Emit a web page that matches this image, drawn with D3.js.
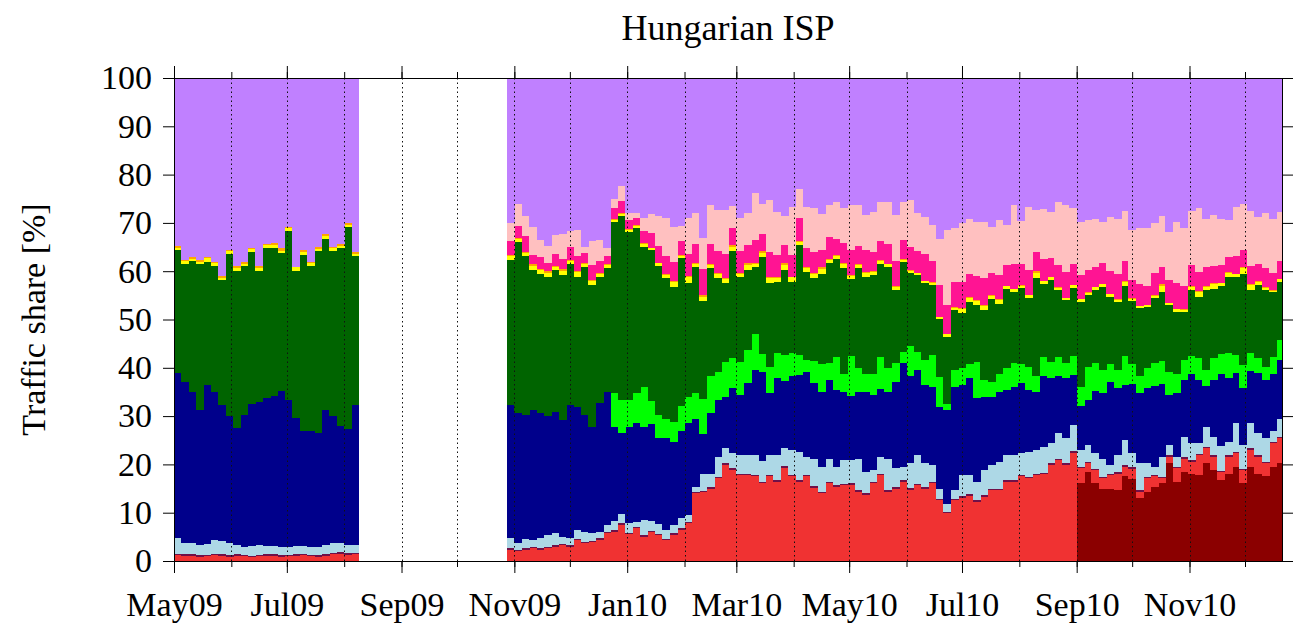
<!DOCTYPE html>
<html>
<head>
<meta charset="utf-8">
<script src="https://cdn.jsdelivr.net/npm/d3@7"></script>
<style>
  body { margin: 0; background: #fff; }
  text { font-family: "Liberation Serif", "Times New Roman", serif; fill: #000; }
  .axis path { display: none; }
  .axis line { stroke: #000; }
</style>
</head>
<body>
<svg id="chart" width="1302" height="632"></svg>
<script>
// two measurement periods, one bar = 4 days
const periodStarts = ['2009-05-01', '2009-10-28'];
const periodBars = [25, 105];

// traffic share per class [%], period 1 (25 bars) then period 2 (105 bars)
const darkRed = [
  0,0,0,0,0,0,0,0,0,0,0,0,0,0,0,0,0,0,0,0,0,0,0,0,0,
  0,0,0,0,0,0,0,0,0,0, 0,0,0,0,0,0,0,0,0,0, 0,0,0,0,0,0,0,0,0,0, 0,0,0,0,0,0,0,0,0,0,
  0,0,0,0,0,0,0,0,0,0, 0,0,0,0,0,0,0,0,0,0, 0,0,0,0,0,0,0,0,0,0, 0,0,0,0,0,0,0,16.1,18.5,16.1,
  15.0,15.0,14.7,17.5,17,13,14.3,15.4,16.1,20.2, 16.4,18.5,18.1,17.8,20.2,18.8,16.8,18.1,19.5,16.1,
  19.5,18.1,17.5,19.5,20.2
];
const red = [
  1.2,1.0,1.1,0.9,1.0,1.2,1.0,0.9,1.1,1.0,0.9,1.0,1.1,1.0,0.9,1.0,1.1,1.2,1.0,0.9,1.1,1.4,1.5,1.3,1.4,
  2.3,2.0,2.3,2.6,2.3,2.6,3.0,3.3,3.0,4.3, 3.7,4.0,4.4,5.7,6.1,7.5,5.5,6.8,5.0,6.0,
  5.3,4.3,5.4,6.4,7.8,14,14.3,15,17.1,19.9, 18.8,17.8,17.8,17.5,16.1,17.5,16.4,19.2,17.5,16.4,
  17.5,15.2,14,16.1,15.4,15.7,15.7,14.3,13.7,16.1, 17.8,14.3,15,16.4,14.7,15.7,15,16.1,12.6,9.9,
  12.6,13,13.5,12.3,13.3,14.7,14.7,16.4,16.4,17.5, 17.1,17.8,18.1,19.9,20.9,19.9,22.3,3.1,1.7,2.7,
  2.1,2.8,3.4,2.0,2.0,1.3,2.8,2.1,1.0,1.4, 2.8,2.7,2.5,4.1,3.1,2.8,1.7,3.5,2.8,2.7,
  3.5,3.5,2.7,4.9,5.2
];
const plum = [
  0.3,0.4,0.3,0.3,0.2,0.3,0.4,0.3,0.3,0.3,0.2,0.3,0.3,0.4,0.3,0.3,0.3,0.2,0.3,0.3,0.4,0.3,0.3,0.3,0.3,
  .3,.3,.4,.3,.3,.2,.3,.3,.4,.3, .3,.2,.3,.3,.3,.4,.3,.3,.3,.2, .3,.3,.3,.4,.3,.3,.2,.3,.3,.3,
  .4,.3,.3,.3,.2,.3,.3,.4,.3,.3, .3,.3,.2,.3,.3,.3,.4,.3,.3,.3, .2,.3,.3,.3,.4,.3,.3,.3,.2,.3,
  .3,.4,.3,.3,.3,.2,.3,.3,.3,.4, .3,.3,.2,.3,.3,.3,.4,.3,.3,.3, .3,.2,.3,.3,.4,.3,.3,.3,.2,.3,
  .3,.3,.4,.3,.3,.3,.2,.3,.3,.3, .4,.3,.3,.2,.3
];
const lightBlue = [
  3.2,2.4,2.3,2.1,2.4,2.8,2.7,2.5,1.9,1.7,2.1,2.0,1.8,1.7,1.8,1.6,1.8,1.8,1.7,1.8,1.8,2.0,1.9,1.7,1.6,
  2.1,1.4,1.8,1.4,2.1,2.5,2.4,1.4,1.4,1.9, 2.1,1.7,1.4,1.5,1.8,1.8,2.0,0.9,3.2,2.1,
  2.0,1.8,1.7,2.1,1.4,1.1,3.5,2.8,4.2,3.1, 3.2,3.8,3.8,4.1,4.5,4.1,5.2,3.8,5.2,5.9,
  3.8,5.7,5.2,4.8,3.8,4.9,4.9,6.6,4.5,2.4, 3.5,6.6,3.9,2.8,5.2,5.9,4.9,3.5,2.1,1.7,
  1.8,4.5,4.0,3.8,5.2,4.9,5.6,5.2,5.2,4.5, 5.2,4.9,5.3,4.2,5.2,5.2,5.5,3.5,3.5,3.3,
  3.8,1.8,3.5,5.2,3.0,5.6,2.8,1.7,4.2,2.1, 2.1,4.2,3.5,2.2,4.2,3.8,5.2,2.8,5.9,4.9,
  5.2,4.5,4.9,2.4,3.8
];
const navy = [
  34.2,33.3,31.3,28.0,32.8,30.7,28.2,26.4,24.2,27.2,29.3,29.7,30.5,31.0,32.2,30.5,26.5,23.7,24.0,23.6,27.9,26.4,24.3,24.0,29.0,
  27.6,26.9,25.8,27.0,25.9,24.8,25.2,24.2,27.6,25.4, 24.1,21.8,26.7,27.5,19.6,16.8,20.0,20.5,19.3,20.1,
  17.9,19.0,17.3,18.0,19.0,14.1,8.3,12.5,11.7,10.7, 13.4,12.5,14.9,17.6,18.3,12.8,15.9,13.8,15.2,15.9,
  17.6,15.6,15.5,16.3,15.9,14.1,13.1,13.8,16.5,15.6, 14.1,13.8,17.9,21.4,18.0,17.6,16.2,16.2,16.9,19.4,
  21.4,18.6,20.0,17.3,15.2,14.1,14.4,13.5,14.2,14.5, 12.8,12.0,14.8,13.4,11.8,12.4,10.4,9.0,9.4,12.7,
  13.6,17.3,13.9,11.4,14.2,14.6,15.6,16.7,15.2,10.4, 13.2,11.8,14.2,13.1,8.4,11.8,14.9,13.2,10.4,11.8,
  10.8,12.5,12.1,11.8,12.2
];
const green = [
  0,0,0,0,0,0,0,0,0,0,0,0,0,0,0,0,0,0,0,0,0,0,0,0,0,
  0,0,0,0,0,0,0,0,0,0, 0,0,0,0,6.9,6.9,5.5,6.2,8.2,4.8,
  4.7,4.1,4.1,5.1,5.5,5.2,7.3,7.6,5.9,7.3, 6.3,6.9,6.9,7.6,3.8,5.5,5.2,5.5,4.8,4.1,
  2.4,4.7,5.9,3.4,6.9,3.8,8.3,4.9,3.8,4.4, 6.6,4.9,3.8,2.4,6.2,3.8,5.2,6.5,6.3,1.3,
  3.4,3.5,2.9,7.6,3.5,3.1,3.8,4.5,4.8,3.8, 4.8,3.2,3.8,3.5,4.1,3.1,3.8,4.1,6.8,5.8,
  4.7,3.7,3.7,6.1,4.1,3.4,4.1,4.7,4.8,4.8, 4.0,4.1,3.7,4.5,3.3,4.5,4.1,5.1,3.7,4.8,
  3.7,3.1,2.7,3.4,4.0
];
const darkGreen = [
  25.4,24.4,27.1,30.1,25.6,26.1,25.9,33.4,32.6,30.9,31.5,27.1,31.1,30.8,28.6,34.9,30.3,36.5,34.1,37.5,35.5,34.0,36.8,41.8,30.8,
  30.0,35.4,32.8,28.9,28.9,28.6,29.3,30.0,29.0,26.9, 30.7,29.5,26.0,25.6,35.5,38.0,34.9,34.3,29.0,31.1,
  30.8,29.0,28.0,30.7,23.5,26.2,20.3,22.4,19.3,16.2, 22.0,17.5,16.5,13.8,20.0,17.3,14.8,17.6,14.8,22.8,
  18.3,17.1,18.6,20.7,20.3,21.8,15.9,20.7,20.0,20.4, 19.3,21.0,15.2,18.7,15.1,15.9,15.9,14.5,12.0,13.8,
  12.4,11.4,12.9,11.7,14.4,17.3,14.5,16.5,14.8,15.8, 14.2,20.3,15.2,16.9,13.8,13.1,14.1,17.6,14.9,15.2,
  17.3,13.8,14.2,14.5,13.1,14.1,12.7,13.5,14.1,13.8, 12.8,10.0,13.8,12.7,16.6,14.4,14.1,15.8,16.2,18.9,
  13.1,15.1,15.9,13.4,12.1
];
const yellow = [
  0.5,0.6,0.4,0.5,0.7,0.5,0.4,0.6,0.5,0.4,0.6,0.5,0.7,0.5,0.4,0.6,0.8,0.5,0.6,0.4,0.5,0.6,0.5,0.4,0.5,
  .8,.6,.7,.9,.8,1.0,.6,.9,.7,1.0, .6,.8,.7,.6,.5,.5,.4,.4,.6,.5,
  .6,.7,.9,.5,1.2,.6,.8,.7,.9,.8, 1.0,.7,1.1,.6,.9,1.0,.8,1.0,.9,.6,
  .7,.8,1.1,.7,.6,.9,.8,.7,.8,.6, .7,.5,.6,.4,.5,.4,.4,.5,.4,.6,
  .5,.7,.9,.8,.9,.6,.7,.5,.6,.5, .6,1.2,.5,.6,.5,.4,.6,.5,.4,.6,
  .5,.6,.4,.8,.5,.4,.3,.5,1.4,.4, .5,.4,.6,1.0,.7,.9,.5,.8,.6,1.1,
  .9,.7,.5,.4,.5
];
const orange = [
  0.4,0.3,0.5,0.4,0.2,0.4,0.5,0.3,0.4,0.5,0.3,0.4,0.2,0.4,0.5,0.3,0.1,0.4,0.3,0.5,0.4,0.3,0.4,0.5,0.4,
  .2,.2,.2,.3,.2,.3,.2,.3,.2,.3, .2,.2,.2,.2,.2,.2,.1,.1,.2,.1,
  .2,.2,.3,.2,.4,.2,.3,.2,.2,.3, .3,.2,.3,.2,.3,.3,.2,.3,.2,.2,
  .2,.2,.3,.2,.2,.2,.2,.2,.2,.2, .2,.1,.2,.1,.1,.1,.1,.1,.1,.1,
  .1,.2,.2,.2,.2,.1,.2,.1,.1,.1, .1,.3,.1,.1,.1,.1,.1,.1,.1,.1,
  .1,.1,.1,.2,.1,.1,.1,.1,.3,.1, .1,.1,.1,.2,.2,.2,.1,.2,.1,.3,
  .2,.2,.1,.1,.1
];
const deepPink = [
  0,0,0,0,0,0,0,0,0,0,0,0,0,0,0,0,0,0,0,0,0,0,0,0,0,
  3.0,2.5,3.2,2.0,2.4,1.8,2.6,2.2,2.8,3.0, 2.0,3.1,2.4,1.8,2.2,2.5,1.8,1.5,2.6,3.0,
  3.5,3.8,4.0,2.8,4.5,4.0,5.5,4.2,4.6,5.0, 3.5,4.4,3.9,4.8,3.6,5.2,4.6,3.8,4.4,4.9,
  3.9,4.4,3.6,4.5,3.2,4.1,5.0,3.7,4.6,4.0, 3.9,4.2,5.3,3.9,4.8,4.5,5.5,4.4,6.5,6.0,
  5.2,5.5,4.8,5.1,5.6,4.7,5.0,4.3,5.0,4.4, 5.2,4.0,4.5,3.8,4.6,5.4,4.2,5.0,4.6,4.0,
  4.4,4.8,5.2,4.1,3.8,4.5,3.9,4.6,3.6,4.7, 5.3,4.9,4.3,3.9,3.8,3.5,3.7,3.2,3.6,3.4,
  3.8,3.5,3.9,3.6,3.7
];
const pink = [
  0,0,0,0,0,0,0,0,0,0,0,0,0,0,0,0,0,0,0,0,0,0,0,0,0,
  3.7,4.7,4.2,5.8,3.5,3.5,3.9,5.2,3.2,5.4, 1.3,5.0,4.3,1.5,1.9,3.0,1.5,1.0,2.6,4.0,
  6.2,7.8,7.2,3.1,7.4,6.3,6.4,8.0,8.5,9.1, 4.5,7.0,6.6,9.6,6.2,10.7,8.9,6.0,10.0,6.0,
  8.6,9.0,7.5,6.7,7.8,7.2,9.5,8.5,7.2,8.3, 8.0,8.7,9.4,8.0,9.8,7.8,7.8,7.4,9.6,15.4,
  11.2,12.2,11.4,11.1,11.6,9.4,11.4,8.2,12.3,8.8, 13.0,8.7,10.4,9.6,13.1,13.8,11.7,10.9,10.4,10.1,
  8.4,11.1,11.5,10.4,10.4,11.6,12.0,10.3,10.6,10.0, 12.7,11.9,11.2,13.2,10.1,10.6,9.5,7.6,10.2,9.7,
  11.3,9.8,11.4,11.1,10.2
];

const series = [
  {key: 'darkRed', values: darkRed, color: '#8b0000'},
  {key: 'red', values: red, color: '#f03232'},
  {key: 'plum', values: plum, color: '#701048'},
  {key: 'lightBlue', values: lightBlue, color: '#add8e6'},
  {key: 'navy', values: navy, color: '#00008b'},
  {key: 'green', values: green, color: '#00ff00'},
  {key: 'darkGreen', values: darkGreen, color: '#006400'},
  {key: 'yellow', values: yellow, color: '#ffff00'},
  {key: 'orange', values: orange, color: '#ffa500'},
  {key: 'deepPink', values: deepPink, color: '#ff1493'},
  {key: 'pink', values: pink, color: '#ffc0c0'}
];
const otherColor = '#c080ff';

const yTicks = [0, 10, 20, 30, 40, 50, 60, 70, 80, 90, 100];

const svg = d3.select('svg#chart');
const margins = {top: 78, right: 20, bottom: 71, left: 174};
const width = +svg.attr('width');
const height = +svg.attr('height');
const plotW = width - margins.left - margins.right;
const plotH = height - margins.top - margins.bottom;

const parse = d3.timeParse('%Y-%m-%d');

// one row per 4-day bar
const rows = [];
let k = 0;
periodStarts.forEach((s, p) => {
  const t0 = parse(s);
  for (let i = 0; i < periodBars[p]; i++, k++) {
    const row = {date: d3.timeDay.offset(t0, 4 * i), end: d3.timeDay.offset(t0, 4 * (i + 1))};
    series.forEach(se => row[se.key] = se.values[k]);
    // remaining (unclassified) traffic fills up to 100%
    row.other = 100 - d3.sum(series, se => se.values[k]);
    rows.push(row);
  }
});

const keys = series.map(s => s.key).concat(['other']);
const colors = series.map(s => s.color).concat([otherColor]);
const stacked = d3.stack().keys(keys)(rows);

const xScale = d3.scaleTime()
  .domain([new Date(2009, 4, 1), new Date(2010, 11, 21)])
  .range([0, plotW]);
const yScale = d3.scaleLinear().domain([0, 100]).range([plotH, 0]);

const chart = svg.append('g').attr('transform', `translate(${margins.left},${margins.top})`);

svg.append('clipPath').attr('id', 'plotclip')
  .append('rect').attr('width', plotW).attr('height', plotH);

const bars = chart.append('g').attr('clip-path', 'url(#plotclip)');
stacked.forEach((layer, li) => {
  bars.append('g')
    .attr('fill', colors[li])
    .attr('shape-rendering', 'crispEdges')
    .selectAll('rect')
    .data(layer.filter(d => d[1] > d[0]))
    .join('rect')
    .attr('x', d => xScale(d.data.date))
    .attr('width', d => xScale(d.data.end) - xScale(d.data.date) + 0.5)
    .attr('y', d => yScale(d[1]))
    .attr('height', d => yScale(d[0]) - yScale(d[1]));
});

// dotted monthly grid in front of the bars
const months = d3.timeMonth.range(new Date(2009, 5, 1), xScale.domain()[1]);
chart.append('g')
  .selectAll('line')
  .data(months)
  .join('line')
  .attr('x1', d => Math.round(xScale(d)) + 0.5)
  .attr('x2', d => Math.round(xScale(d)) + 0.5)
  .attr('y1', 0)
  .attr('y2', plotH)
  .attr('stroke', '#111')
  .attr('stroke-width', 1)
  .attr('stroke-dasharray', '1.5,3');

// axes: labelled every two months, minor ticks every month
const allMonths = d3.timeMonth.range(new Date(2009, 4, 1), xScale.domain()[1]);
const majorMonths = allMonths.filter(d => d.getMonth() % 2 === 0);

chart.append('g').attr('class', 'axis')
  .attr('transform', `translate(0,${plotH})`)
  .call(d3.axisBottom(xScale).tickValues(allMonths).tickSize(6).tickFormat(''));
chart.append('g').attr('class', 'axis')
  .attr('transform', `translate(0,${plotH})`)
  .call(d3.axisBottom(xScale).tickValues(majorMonths).tickSize(12).tickPadding(19)
    .tickFormat(d3.timeFormat('%b%y')))
  .selectAll('text').style('font-size', '34px');
chart.append('g').attr('class', 'axis')
  .call(d3.axisTop(xScale).tickValues(allMonths).tickSize(6).tickFormat(''));
chart.append('g').attr('class', 'axis')
  .call(d3.axisTop(xScale).tickValues(majorMonths).tickSize(12).tickFormat(''));

chart.append('g').attr('class', 'axis')
  .call(d3.axisLeft(yScale).tickValues(yTicks).tickSize(11).tickPadding(11))
  .selectAll('text').style('font-size', '34px');
chart.append('g').attr('class', 'axis')
  .attr('transform', `translate(${plotW},0)`)
  .call(d3.axisRight(yScale).tickValues(yTicks).tickSize(11).tickFormat(''));

chart.append('rect')
  .attr('x', 0.5).attr('y', 0.5)
  .attr('width', plotW).attr('height', plotH)
  .attr('fill', 'none').attr('stroke', '#000').attr('stroke-width', 1);

svg.append('text')
  .attr('x', margins.left + plotW / 2)
  .attr('y', 40)
  .attr('text-anchor', 'middle')
  .style('font-size', '36px')
  .text('Hungarian ISP');

svg.append('text')
  .attr('transform', `translate(45,${margins.top + plotH / 2}) rotate(-90)`)
  .attr('text-anchor', 'middle')
  .style('font-size', '34px')
  .text('Traffic share [%]');
</script>
</body>
</html>
